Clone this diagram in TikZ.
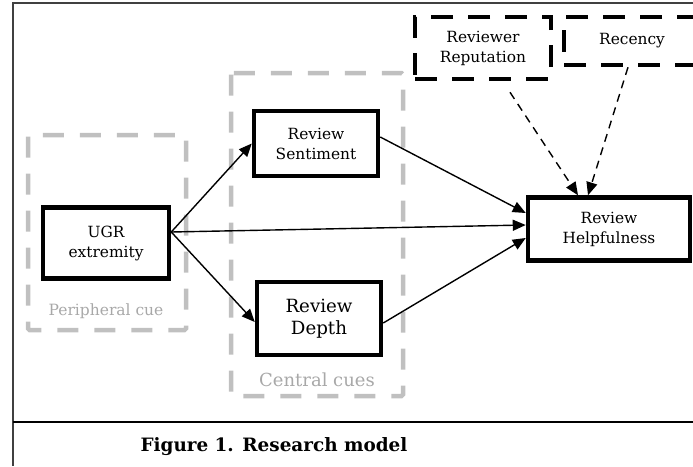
\documentclass[tikz,border=0pt]{standalone}
\usepackage{fontspec}
\setmainfont{DejaVu Serif}
\usetikzlibrary{arrows.meta}
\definecolor{cuegray}{HTML}{C0C0C0}
\definecolor{cuetext}{HTML}{A8A8A8}
\definecolor{framegray}{HTML}{404040}

\begin{document}
\begin{tikzpicture}[x=1pt, y=-1pt,
    construct/.style={draw, line width=4.5pt, align=center, inner sep=2pt, font=\fontsize{15.4}{20}\selectfont},
    control/.style={draw, line width=4.5pt, dash pattern=on 22pt off 15pt, align=center, inner sep=2pt, font=\fontsize{15.4}{20}\selectfont},
    cuebox/.style={draw=cuegray, line width=4.5pt, dash pattern=on 21pt off 16pt, rounded corners=1.5pt},
    cuelabel/.style={text=cuetext},
    path/.style={line width=1.4pt, -{Triangle[length=13pt,width=11pt]}},
    modpath/.style={path, dash pattern=on 8pt off 6pt}]
\useasboundingbox (0,0) rectangle (693,466);
\draw[framegray, line width=1.5pt] (693,3) -- (13,3) -- (13,466);
\draw[line width=1.5pt] (13,422) -- (693,422);
\node[font=\bfseries\fontsize{18.4}{22}\selectfont] (caption) at (274,447) {Figure 1. Research model};
\draw[cuebox] (28,135) rectangle (186,330);
\draw[cuebox] (231,73) rectangle (403,396);
\node[cuelabel, font=\fontsize{15.5}{18}\selectfont] (periph) at (106,311) {Peripheral cue};
\node[cuelabel, font=\fontsize{18}{20}\selectfont] (central) at (317,380) {Central cues};
\node[construct, minimum width=126pt, minimum height=71pt] (ugr) at (106,243) {UGR\\extremity};
\node[construct, minimum width=124pt, minimum height=65pt] (sent) at (316,143.5) {Review\\Sentiment};
\node[construct, minimum width=124pt, minimum height=73pt, font=\fontsize{18.2}{22}\selectfont] (depth) at (319,318.5) {Review\\Depth};
\node[construct, minimum width=162pt, minimum height=63pt] (help) at (609,229) {Review\\Helpfulness};
\node[control, minimum width=136pt, minimum height=62pt] (rep) at (483,48) {Reviewer\\Reputation};
\node[control, minimum width=136pt, minimum height=48pt] (rec) at (632,41) {Recency};
\draw[path] ([yshift=11pt]ugr.east) -- (sent.west);
\draw[path] ([yshift=11pt]ugr.east) -- ([yshift=-3.5pt]depth.west);
\draw[path] ([yshift=11pt]ugr.east) -- ([yshift=4pt]help.west);
\draw[path] ([yshift=6.5pt]sent.east) -- ([yshift=16pt]help.west);
\draw[path] ([yshift=-4.5pt]depth.east) -- ([yshift=-9pt]help.west);
\draw[modpath] ([xshift=27pt,yshift=-11pt]rep.south) -- ([xshift=-31pt]help.north);
\draw[modpath] ([xshift=-4pt]rec.south) -- ([xshift=-21pt]help.north);
\end{tikzpicture}
\end{document}
